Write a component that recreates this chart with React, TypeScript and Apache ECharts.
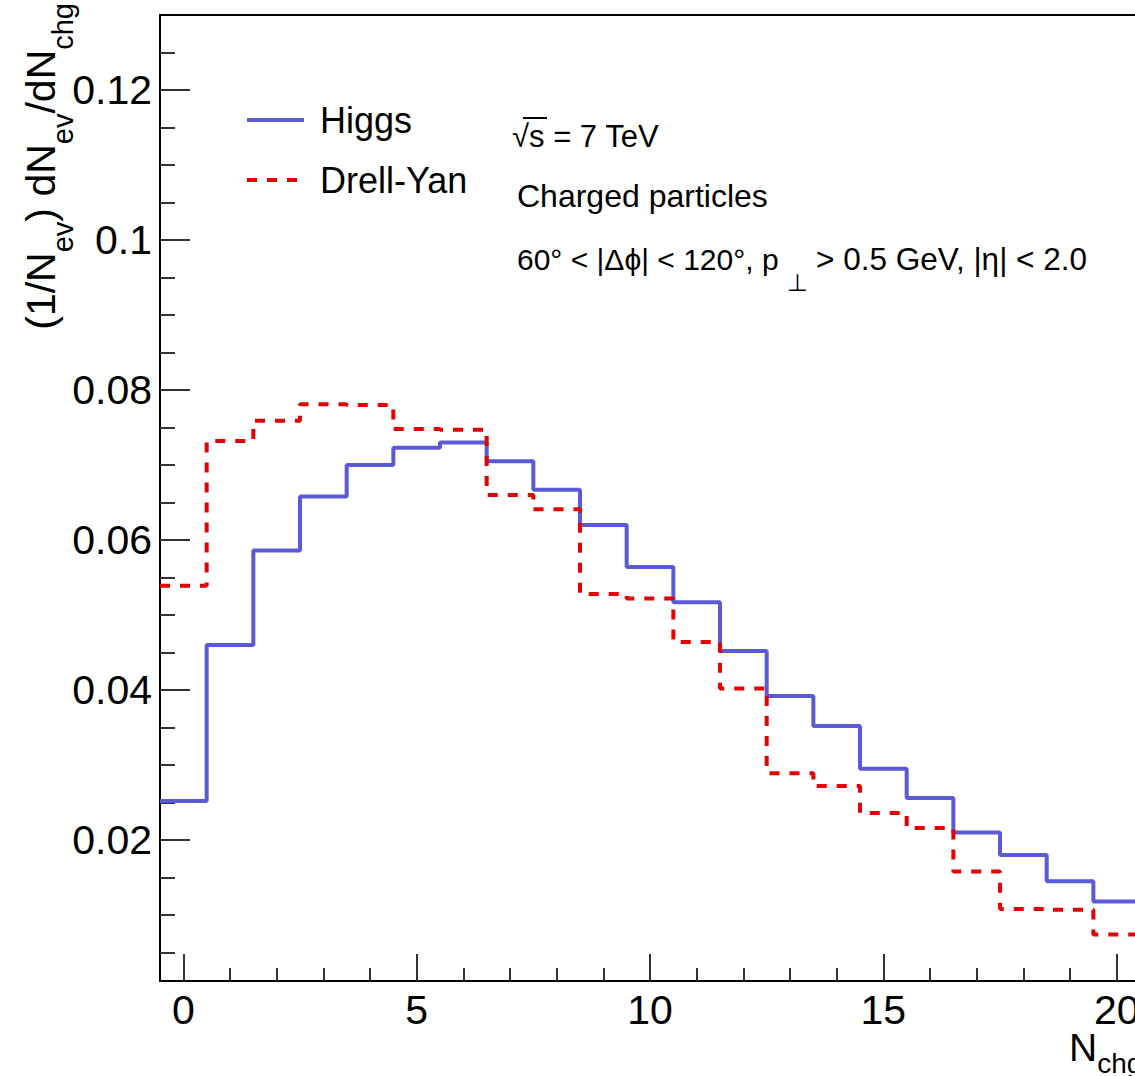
import React, { useEffect, useRef } from "react";
import * as echarts from "echarts";

const nchgBins = [0, 1, 2, 3, 4, 5, 6, 7, 8, 9, 10, 11, 12, 13, 14, 15, 16, 17, 18, 19, 20];
const higgs = [0.0252, 0.046, 0.0586, 0.0658, 0.07, 0.0723, 0.073, 0.0705, 0.0667, 0.062, 0.0564, 0.0517, 0.0452, 0.0392, 0.0352, 0.0295, 0.0256, 0.021, 0.018, 0.0145, 0.0118];
const drellYan = [0.0539, 0.0732, 0.0759, 0.0781, 0.078, 0.0748, 0.0747, 0.066, 0.0641, 0.0528, 0.0522, 0.0464, 0.0402, 0.0289, 0.0272, 0.0236, 0.0216, 0.0158, 0.0108, 0.0107, 0.0074];

const xMajorTicks = [0, 5, 10, 15, 20];
const xMinorTicks = [1, 2, 3, 4, 6, 7, 8, 9, 11, 12, 13, 14, 16, 17, 18, 19, 21];
const yMajorTicks = [0.02, 0.04, 0.06, 0.08, 0.1, 0.12];
const yMinorTicks = [0.005, 0.01, 0.015, 0.025, 0.03, 0.035, 0.045, 0.05, 0.055, 0.065, 0.07, 0.075, 0.085, 0.09, 0.095, 0.105, 0.11, 0.115, 0.125];

const FONT = '"Liberation Sans", Arial, Helvetica, sans-serif';

function histPoints(centers: number[], values: number[]) {
  const pts = centers.map((c, i) => [c - 0.5, values[i]]);
  pts.push([centers[centers.length - 1] + 0.5, values[values.length - 1]]);
  return pts;
}

export default function App() {
  const ref = useRef<HTMLDivElement>(null);
  useEffect(() => {
    if (!ref.current) return;
    const chart = echarts.init(ref.current, undefined, { renderer: "svg" });
    const tickStyle = { color: "#333", width: 2 };
    const xBase = {
      type: "value",
      min: -0.5,
      max: 21.5,
      position: "bottom",
      splitLine: { show: false },
    };
    const yBase = {
      type: "value",
      min: 0.0012,
      max: 0.13,
      position: "left",
      splitLine: { show: false },
    };
    chart.setOption({
      animation: false,
      backgroundColor: "#fff",
      grid: {
        left: 160,
        top: 15,
        width: 1026.7,
        height: 966,
        show: true,
        borderColor: "#000",
        borderWidth: 2,
        backgroundColor: "transparent",
      },
      legend: {
        orient: "vertical",
        left: 245,
        top: 102,
        padding: 0,
        itemWidth: 57,
        itemHeight: 20,
        itemGap: 24,
        data: ["Higgs", "Drell-Yan"],
        itemStyle: { opacity: 0, borderWidth: 0 },
        lineStyle: { width: 4 },
        textStyle: { fontSize: 36, fontFamily: FONT, color: "#000", padding: [0, 0, 0, 11] },
      },
      xAxis: [
        {
          ...xBase,
          axisLine: { show: true, onZero: false, lineStyle: { color: "#000", width: 2 } },
          axisTick: { show: true, inside: true, length: 27, customValues: xMajorTicks, lineStyle: tickStyle },
          axisLabel: { show: true, customValues: xMajorTicks, fontSize: 41, fontFamily: FONT, color: "#000", margin: 8 },
        },
        {
          ...xBase,
          axisLine: { show: false, onZero: false },
          axisTick: { show: true, inside: true, length: 13, customValues: xMinorTicks, lineStyle: tickStyle },
          axisLabel: { show: false },
        },
      ],
      yAxis: [
        {
          ...yBase,
          axisLine: { show: true, onZero: false, lineStyle: { color: "#000", width: 2 } },
          axisTick: { show: true, inside: true, length: 30, customValues: yMajorTicks, lineStyle: tickStyle },
          axisLabel: { show: true, customValues: yMajorTicks, fontSize: 41, fontFamily: FONT, color: "#000", margin: 8 },
        },
        {
          ...yBase,
          axisLine: { show: false, onZero: false },
          axisTick: { show: true, inside: true, length: 15, customValues: yMinorTicks, lineStyle: tickStyle },
          axisLabel: { show: false },
        },
      ],
      series: [
        {
          type: "line",
          name: "Higgs",
          xAxisIndex: 0,
          yAxisIndex: 0,
          step: "end",
          symbol: "none",
          data: histPoints(nchgBins, higgs),
          lineStyle: { color: "#5a5ad8", width: 4 },
          itemStyle: { color: "#5a5ad8" },
        },
        {
          type: "line",
          name: "Drell-Yan",
          xAxisIndex: 0,
          yAxisIndex: 0,
          step: "end",
          symbol: "none",
          data: histPoints(nchgBins, drellYan),
          lineStyle: { color: "#e60000", width: 4, type: [10, 10] },
          itemStyle: { color: "#e60000" },
        },
      ],
      graphic: [
        {
          type: "text",
          x: 41,
          y: 3,
          rotation: Math.PI / 2,
          style: {
            text: "{m|(1/N}{s|ev}{m|) dN}{s|ev}{m|/dN}{s|chg}",
            align: "right",
            verticalAlign: "middle",
            rich: {
              m: { fontSize: 41, fontFamily: FONT, lineHeight: 72, fill: "#000" },
              s: { fontSize: 29, fontFamily: FONT, lineHeight: 30, verticalAlign: "bottom", fill: "#000" },
            },
          },
        },
        {
          type: "text",
          x: 1069,
          y: 1047,
          style: {
            text: "{m|N}{s|chg}",
            align: "left",
            verticalAlign: "middle",
            rich: {
              m: { fontSize: 39, fontFamily: FONT, lineHeight: 60, fill: "#000" },
              s: { fontSize: 28, fontFamily: FONT, lineHeight: 30, verticalAlign: "bottom", fill: "#000" },
            },
          },
        },
        {
          type: "text",
          x: 512,
          y: 136,
          style: { text: "√s = 7 TeV", fontSize: 31, fontFamily: FONT, fill: "#000", align: "left", verticalAlign: "middle" },
        },
        {
          type: "line",
          shape: { x1: 523, y1: 118, x2: 547, y2: 118 },
          style: { stroke: "#000", lineWidth: 2 },
        },
        {
          type: "text",
          x: 517,
          y: 196,
          style: { text: "Charged particles", fontSize: 32, fontFamily: FONT, fill: "#000", align: "left", verticalAlign: "middle" },
        },
        {
          type: "text",
          x: 517,
          y: 259,
          style: { text: "60° < |Δϕ| < 120°, p", fontSize: 30, fontFamily: FONT, fill: "#000", align: "left", verticalAlign: "middle" },
        },
        {
          type: "text",
          x: 787,
          y: 282,
          style: { text: "⊥", fontSize: 24, fontFamily: FONT, fill: "#000", align: "left", verticalAlign: "middle" },
        },
        {
          type: "text",
          x: 1087,
          y: 259,
          style: { text: "> 0.5 GeV, |η| < 2.0", fontSize: 31.5, fontFamily: FONT, fill: "#000", align: "right", verticalAlign: "middle" },
        },
      ],
    });
    return () => chart.dispose();
  }, []);
  return (
    <div style={{ position: "fixed", left: 0, top: 0, width: 1135, height: 1076, overflow: "hidden", background: "#fff" }}>
      <div ref={ref} style={{ width: 1200, height: 1076 }} />
    </div>
  );
}
